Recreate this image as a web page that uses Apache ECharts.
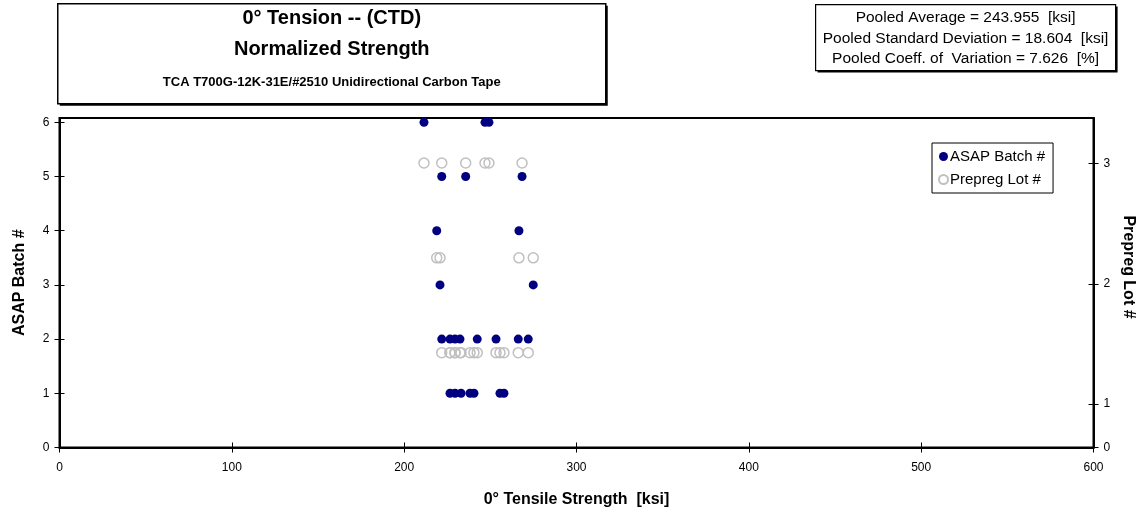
<!DOCTYPE html>
<html>
<head>
<meta charset="utf-8">
<script src="https://cdn.jsdelivr.net/npm/echarts@6/dist/echarts.min.js"></script>
<style>
  html, body { margin: 0; padding: 0; background: #fff; }
  #chart { width: 1146px; height: 520px; }
</style>
</head>
<body>
<div id="chart"></div>
<script>
// specimen data: strength [ksi], ASAP batch, prepreg lot
const strength = [
  226.6, 229.5, 233.0, 238.2, 240.5, 255.6, 257.9,
  221.8, 226.6, 229.5, 232.4, 242.4, 253.3, 266.2, 272.0,
  220.8, 274.9,
  218.9, 266.6,
  221.8, 235.7, 268.4,
  211.5, 246.9, 249.2
];
const batch = [
  1, 1, 1, 1, 1, 1, 1,
  2, 2, 2, 2, 2, 2, 2, 2,
  3, 3,
  4, 4,
  5, 5, 5,
  6, 6, 6
];
const lot = [
  1, 1, 1, 1, 1, 1, 1,
  1, 1, 1, 1, 1, 1, 1, 1,
  2, 2,
  2, 2,
  3, 3, 3,
  3, 3, 3
];
// prepreg lots are drawn on the batch scale, stretched by this factor
const LOT_SCALE = 1.75;

const xTicks = [0, 100, 200, 300, 400, 500, 600];
const statLines = [
  "Pooled Average = 243.955  [ksi]",
  "Pooled Standard Deviation = 18.604  [ksi]",
  "Pooled Coeff. of  Variation = 7.626  [%]"
];
const titleLines = [
  "0\u00b0 Tension -- (CTD)",
  "Normalized Strength",
  "TCA T700G-12K-31E/#2510 Unidirectional Carbon Tape"
];

const FONT = "Liberation Sans, Arial, sans-serif";
const asapData = strength.map((s, i) => [s, batch[i]]);
const lotData = strength.map((s, i) => [s, lot[i] * LOT_SCALE]);

const el = echarts.init(document.getElementById("chart"));

const tickStyle = { color: "#000", width: 1 };
const labelStyle = { color: "#000", fontSize: 12, fontFamily: FONT };
const nameStyle = { color: "#000", fontSize: 16, fontWeight: "bold", fontFamily: FONT };
const gridBox = { left: 59.5, right: 52.5, top: 118, bottom: 72.5, outerBoundsMode: "none", containLabel: false };

// second grid only carries the inner half of the cross ticks
options = {
  animation: false,
  textStyle: { fontFamily: FONT },
  grid: [
    { ...gridBox, show: true, borderColor: "#000", borderWidth: 2 },
    { ...gridBox, show: false },
  ],
  legend: {
    orient: "vertical",
    left: 932,
    top: 143,
    padding: [6, 8, 6, 6],
    itemGap: 8,
    itemWidth: 9,
    itemHeight: 9,
    borderColor: "#000",
    borderWidth: 1,
    backgroundColor: "#fff",
    textStyle: { color: "#000", fontSize: 15, fontFamily: FONT, padding: [0, 0, 0, -3] },
    data: ["ASAP Batch #", "Prepreg Lot #"],
  },
  xAxis: [
    {
      type: "value",
      gridIndex: 0,
      min: xTicks[0],
      max: xTicks[xTicks.length - 1],
      interval: 100,
      name: "0\u00b0 Tensile Strength  [ksi]",
      nameLocation: "middle",
      nameGap: 44,
      nameTextStyle: nameStyle,
      axisLine: { show: true, lineStyle: { color: "#000", width: 2 } },
      axisTick: { show: true, length: 5, lineStyle: tickStyle },
      axisLabel: { ...labelStyle, margin: 14 },
      splitLine: { show: false },
    },
    {
      type: "value",
      gridIndex: 1,
      position: "bottom",
      min: xTicks[0],
      max: xTicks[xTicks.length - 1],
      interval: 100,
      axisLine: { show: false },
      axisTick: { show: true, inside: true, length: 5, lineStyle: tickStyle },
      axisLabel: { show: false },
      splitLine: { show: false },
    },
  ],
  yAxis: [
    {
      type: "value",
      gridIndex: 0,
      position: "left",
      min: 0,
      max: 6.08,
      interval: 1,
      name: "ASAP Batch #",
      nameLocation: "middle",
      nameGap: 32,
      nameTextStyle: nameStyle,
      axisLine: { show: true, lineStyle: { color: "#000", width: 2 } },
      axisTick: { show: true, length: 5, lineStyle: tickStyle },
      axisLabel: { ...labelStyle, margin: 10, showMaxLabel: false,
        formatter: (v) => (v > 6.01 ? "" : String(v)) },
      splitLine: { show: false },
    },
    {
      type: "value",
      gridIndex: 0,
      position: "right",
      min: 0.64,
      max: 3.378,
      minInterval: 1,
      axisLine: { show: true, lineStyle: { color: "#000", width: 2 } },
      axisTick: { show: true, length: 5, lineStyle: tickStyle },
      axisLabel: { ...labelStyle, margin: 10, showMaxLabel: false,
        formatter: (v) => (v < 0.9 ? "0" : v > 3.1 ? "" : String(Math.round(v))) },
      splitLine: { show: false },
    },
    {
      type: "value",
      gridIndex: 1,
      position: "left",
      min: 0,
      max: 6.08,
      interval: 1,
      axisLine: { show: false },
      axisTick: { show: true, inside: true, length: 5, lineStyle: tickStyle },
      axisLabel: { show: false },
      splitLine: { show: false },
    },
    {
      type: "value",
      gridIndex: 1,
      position: "right",
      min: 0.64,
      max: 3.378,
      minInterval: 1,
      axisLine: { show: false },
      axisTick: { show: true, inside: true, length: 5, lineStyle: tickStyle },
      axisLabel: { show: false },
      splitLine: { show: false },
    },
  ],
  series: [
    {
      name: "ASAP Batch #",
      type: "scatter",
      xAxisIndex: 0,
      yAxisIndex: 0,
      symbol: "circle",
      symbolSize: 9,
      itemStyle: { color: "#000080", opacity: 1 },
      data: asapData,
      z: 3,
    },
    {
      name: "Prepreg Lot #",
      type: "scatter",
      xAxisIndex: 0,
      yAxisIndex: 0,
      symbol: "circle",
      symbolSize: 10,
      itemStyle: { color: "rgba(255,255,255,0)", borderColor: "#c0c0c0", borderWidth: 1.5, opacity: 1 },
      data: lotData,
      z: 2,
    },
  ],
  graphic: [
    {
      type: "group",
      left: 57,
      top: 3,
      children: [
        { type: "rect", shape: { x: 2, y: 2, width: 548, height: 100 }, style: { fill: "#000" } },
        { type: "rect", shape: { x: 0, y: 0, width: 548, height: 100 },
          style: { fill: "#fff", stroke: "#000", lineWidth: 1.5 } },
        { type: "text", x: 274, y: 15, style: { text: titleLines[0], font: "bold 20px " + FONT,
          fill: "#000", align: "center", verticalAlign: "middle" } },
        { type: "text", x: 274, y: 46, style: { text: titleLines[1], font: "bold 20px " + FONT,
          fill: "#000", align: "center", verticalAlign: "middle" } },
        { type: "text", x: 274, y: 79, style: { text: titleLines[2], font: "bold 13px " + FONT,
          fill: "#000", align: "center", verticalAlign: "middle" } },
      ],
    },
    {
      type: "group",
      left: 815,
      top: 4,
      children: [
        { type: "rect", shape: { x: 2, y: 2, width: 300, height: 66 }, style: { fill: "#000" } },
        { type: "rect", shape: { x: 0, y: 0, width: 300, height: 66 },
          style: { fill: "#fff", stroke: "#000", lineWidth: 1.2 } },
        { type: "text", x: 150, y: 13, style: { text: statLines[0], font: "15.5px " + FONT,
          fill: "#000", align: "center", verticalAlign: "middle" } },
        { type: "text", x: 150, y: 34, style: { text: statLines[1], font: "15.5px " + FONT,
          fill: "#000", align: "center", verticalAlign: "middle" } },
        { type: "text", x: 150, y: 54, style: { text: statLines[2], font: "15.5px " + FONT,
          fill: "#000", align: "center", verticalAlign: "middle" } },
      ],
    },
    {
      // right axis title, reads top to bottom
      type: "text",
      x: 1128,
      y: 267,
      rotation: -Math.PI / 2,
      style: { text: "Prepreg Lot #", font: "bold 16px " + FONT, fill: "#000",
        align: "center", verticalAlign: "middle" },
    },
  ],
};

el.setOption(options);
</script>
</body>
</html>
